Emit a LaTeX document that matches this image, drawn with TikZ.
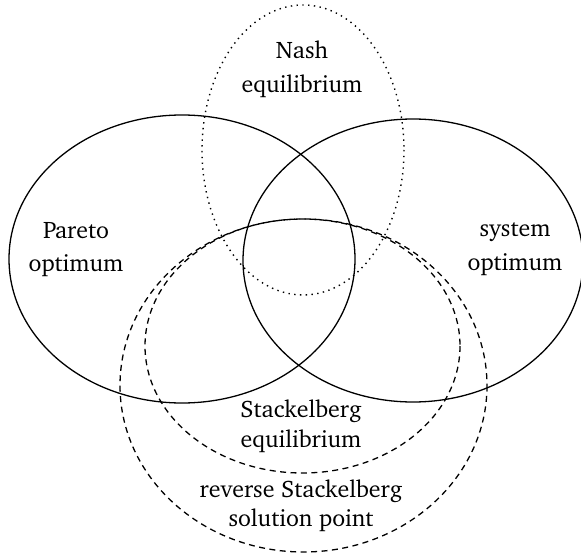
\documentclass[tikz,border=0pt]{standalone}
\usepackage[T1]{fontenc}
\usepackage{charter}
\usepackage{tikz}
\usetikzlibrary{positioning}
\tikzstyle{setsolid} = [line width=1.3pt]
\tikzstyle{setdash} = [line width=1.3pt, dash pattern=on 6pt off 4.5pt]
\tikzstyle{setdot} = [line width=1.4pt, dash pattern=on 1.4pt off 4.4pt]
\tikzstyle{setlabel} = [align=center, inner sep=0pt, font=\fontsize{24}{#1}\selectfont]

\begin{document}
\begin{tikzpicture}[x=1bp, y=-1bp]
\useasboundingbox (0,0) rectangle (581,557);
% sets
\draw [setsolid] (182,259) ellipse (173 and 144);
\draw [setsolid] (413,260.5) ellipse (170 and 141.5);
\draw [setdot] (303,150) ellipse (101 and 145);
\draw [setdash] (302.5,346) ellipse (157.5 and 127);
\draw [setdash] (303.5,385.5) ellipse (183.5 and 166.5);
% labels
\node (nash) [setlabel=34] at (302,69) {Nash\\equilibrium};
\node (pareto) [setlabel=33] at (76,249) {Pareto\\optimum};
\node (system) [setlabel=34] at (515,249) {system\\optimum};
\node (stack) [setlabel=30] at (301,426) {Stackelberg\\equilibrium};
\node (rstack) [setlabel=29] at (301,506) {reverse Stackelberg\\solution point};
\end{tikzpicture}
\end{document}
